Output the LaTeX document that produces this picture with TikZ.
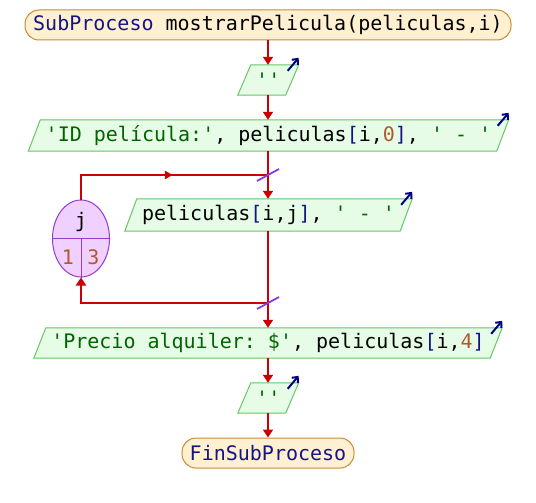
\documentclass[tikz,border=0pt]{standalone}
\usepackage{fontspec}
\setmonofont{DejaVu Sans Mono}
\usetikzlibrary{arrows.meta,shapes.geometric,decorations.markings}
\definecolor{kw}{RGB}{20,20,130}
\definecolor{str}{RGB}{0,100,0}
\definecolor{num}{RGB}{175,90,45}
\definecolor{termfill}{RGB}{255,240,210}
\definecolor{termdraw}{RGB}{200,140,50}
\definecolor{parafill}{RGB}{230,252,230}
\definecolor{paradraw}{RGB}{100,200,100}
\definecolor{flowred}{RGB}{204,0,0}
\definecolor{outblue}{RGB}{0,0,128}
\definecolor{ellfill}{RGB}{240,208,255}
\definecolor{elldraw}{RGB}{150,60,200}
\definecolor{slashc}{RGB}{140,60,210}
\pgfdeclarelayer{back}
\pgfdeclarelayer{bg}
\pgfsetlayers{back,bg,main}
\tikzset{
  term/.style={rectangle, rounded corners=14pt, draw=termdraw, fill=termfill, line width=1pt, inner sep=0pt, minimum height=30pt},
  paratext/.style={rectangle, inner sep=0pt},
  parastyle/.style={draw=paradraw, fill=parafill, line width=1pt},
  flow/.style={draw=flowred, line width=2.2pt},
  flowarrow/.style={flow, -{Triangle[length=8pt,width=10pt]}},
  outarrow/.style={draw=outblue, line width=2pt, -{Straight Barb[length=4.5pt,width=8pt]}},
  loopell/.style={ellipse, draw=elldraw, fill=ellfill, line width=1pt, minimum width=57pt, minimum height=77pt, inner sep=0pt},
  slashline/.style={draw=slashc, line width=1.8pt},
  midarrow/.style={postaction={decorate}, decoration={markings, mark=at position 0.55 with {\arrow{Triangle[length=8pt,width=8pt]}}}}
}
\newcommand\paraframe[2]{%
  \begin{pgfonlayer}{bg}
    \draw[parastyle] ([xshift=#2]#1.north west) -- ([xshift=#2]#1.north east) -- ([xshift=-#2]#1.south east) -- ([xshift=-#2]#1.south west) -- cycle;
  \end{pgfonlayer}
  \coordinate (#1-tr) at ([xshift=#2]#1.north east);
  \draw[outarrow] ([shift={(-11,6)}]#1-tr) -- ([shift={(0,-7)}]#1-tr);
}
\begin{document}
\begin{tikzpicture}[x=1pt,y=-1pt, font=\ttfamily\fontsize{20}{24}\selectfont]
\begin{pgfonlayer}{back}
\fill[white] (0,0) rectangle (536,503);
\end{pgfonlayer}
\useasboundingbox (0,0) rectangle (536,503);
% nodes
\node[term, minimum width=486pt] (start) at (268,25) {\textcolor{kw}{SubProceso} mostrarPelicula(peliculas,i)};
\node[paratext, minimum width=47.5pt, minimum height=30pt] (p1) at (268.25,80) {\textcolor{str}{''}};
\node[paratext, minimum width=468pt, minimum height=31pt] (p2) at (268.5,135.5) {\textcolor{str}{'ID película:'}, peliculas\textcolor{kw}{[}i,\textcolor{num}{0}\textcolor{kw}{]}, \textcolor{str}{' - '}};
\node[paratext, minimum width=275pt, minimum height=32pt] (p3) at (268.5,215) {peliculas\textcolor{kw}{[}i,j\textcolor{kw}{]}, \textcolor{str}{' - '}};
\node[paratext, minimum width=456pt, minimum height=30pt] (p4) at (268,343) {\textcolor{str}{'Precio alquiler: \$'}, peliculas\textcolor{kw}{[}i,\textcolor{num}{4}\textcolor{kw}{]}};
\node[paratext, minimum width=47.5pt, minimum height=30pt] (p5) at (268.25,398) {\textcolor{str}{''}};
\node[term, minimum width=172pt] (end) at (268,453) {\textcolor{kw}{FinSubProceso}};
\paraframe{p1}{6.5}
\paraframe{p2}{6}
\paraframe{p3}{6}
\paraframe{p4}{6}
\paraframe{p5}{6.5}
% loop ellipse
\node[loopell] (ell) at (81,238.5) {};
\draw[draw=elldraw, line width=1pt] (ell.west) -- (ell.east);
\draw[draw=elldraw, line width=1pt] (ell.center) -- (ell.south);
\node (jvar) at (81,222) {j};
\node[text=num] (jfrom) at (68,257) {1};
\node[text=num] (jto) at (93.5,257) {3};
% connectors
\coordinate (jt) at (268,175);
\coordinate (jb) at (268,303);
\draw[flowarrow] (start.south) -- (start.south |- p1.north);
\draw[flowarrow] (p1.south -| start.south) -- (start.south |- p2.north);
\draw[flowarrow] (p2.south -| start.south) -- (start.south |- p3.north);
\draw[flowarrow] (p3.south -| start.south) -- (start.south |- p4.north);
\draw[flowarrow] (p4.south -| start.south) -- (start.south |- p5.north);
\draw[flowarrow] (p5.south -| start.south) -- (end.north);
\draw[flow, midarrow] (ell.north) |- (jt);
\draw[flowarrow] (jb) -| (ell.south);
\draw[slashline] ([shift={(-11,6)}]jt) -- ([shift={(11,-6)}]jt);
\draw[slashline] ([shift={(-11,6)}]jb) -- ([shift={(11,-6)}]jb);
\end{tikzpicture}
\end{document}
